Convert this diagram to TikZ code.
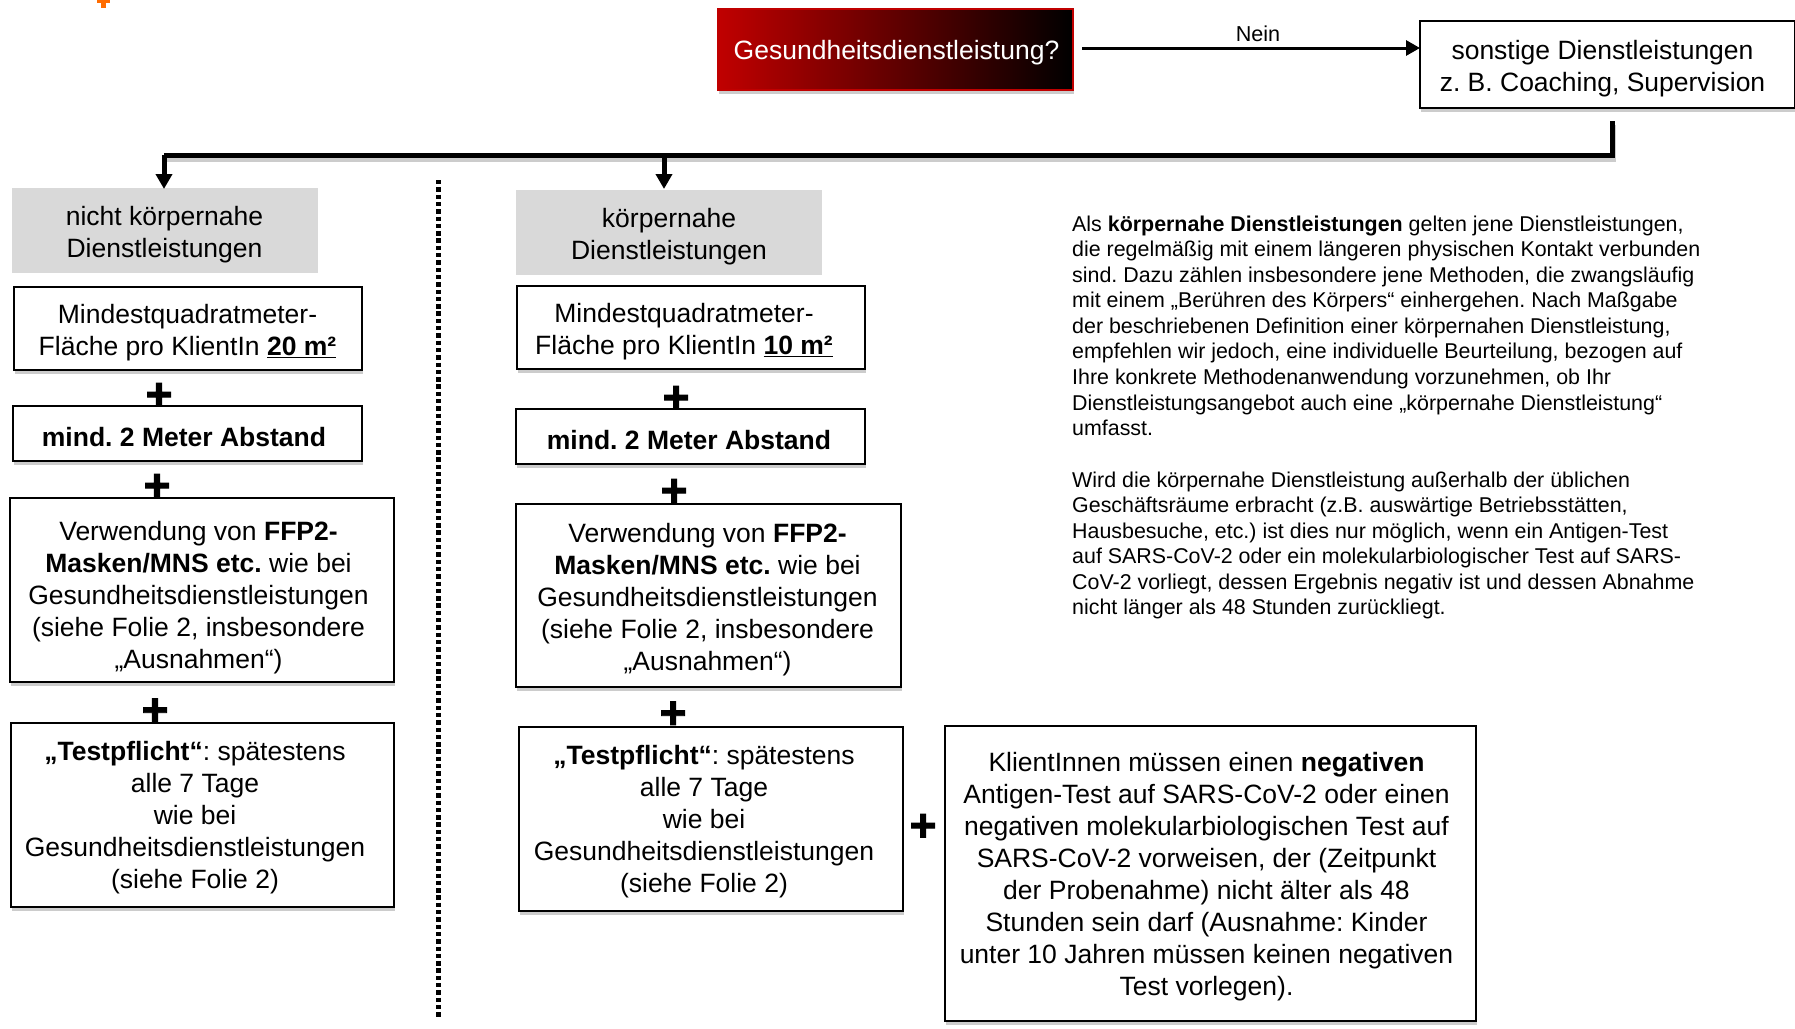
\documentclass[tikz,border=0pt]{standalone}
\usepackage{fontspec}
\setmainfont{Liberation Sans}
\newfontfamily\plusfont[FakeBold=2]{Liberation Sans Bold}
\frenchspacing
\usetikzlibrary{shadows,arrows.meta}
\definecolor{dred}{HTML}{C00000}
\definecolor{lgray}{HTML}{D9D9D9}
\newcommand\boxtxt[3][4.5]{\raisebox{-#1pt}[\height][\depth]{\kern#2pt\begin{tabular}{@{}c@{}}#3\end{tabular}}}
\tikzset{
 x=1pt,y=-1pt,
 softshadow/.style={drop shadow={shadow xshift=1pt,shadow yshift=-4pt,opacity=.2,fill=black}},
 bigtext/.style={font=\fontsize{26.5}{32}\selectfont},
 whitebox/.style={draw=black,line width=2pt,outer sep=0pt,fill=white,bigtext,inner sep=0pt,softshadow},
 graybox/.style={fill=lgray,bigtext,inner sep=0pt,outer sep=0pt},
 plussign/.style={font=\plusfont\fontsize{46}{46}\selectfont,inner sep=0pt},
 flow/.style={line width=3pt,draw=black,-{Triangle[length=14pt,width=15pt]}},
 trunk/.style={line width=5pt,draw=black,line join=miter},
 trunkarrow/.style={trunk,-{Triangle[length=15pt,width=16pt]}},
 explain/.style={anchor=north west,inner sep=0pt,align=left,font=\fontsize{21.4}{25.55}\selectfont},
}
\newcommand\bx[7][]{\node[whitebox,#1,minimum width=#4-#2,minimum height=#5-#3,anchor=north west] (#6) at (#2,#3) {#7};}
\begin{document}
\begin{tikzpicture}
\useasboundingbox (0,0) rectangle (1795,1028);
% small orange mark at the top edge
\node[fill=orange!85!red,minimum width=5pt,minimum height=9pt,inner sep=0pt] (markv) at (103,3) {};
\node[fill=orange!85!red,minimum width=13pt,minimum height=3pt,inner sep=0pt] (markh) at (103,1) {};
% question
\node[anchor=north west,minimum width=355pt,minimum height=81pt,inner sep=0pt,outer sep=0pt,draw=dred,line width=1.5pt,
  left color=dred,right color=black,softshadow,text=white,bigtext] (q) at (718,9) {\boxtxt[3.5]{2}{Gesundheitsdienstleistung?}};
\bx{1420}{21}{1795}{108}{other}{\boxtxt{-10}{sonstige Dienstleistungen\\z. B. Coaching, Supervision}}
\coordinate (qout) at (1082,48);
\coordinate (otherin) at (other.west |- qout);
\draw[flow] (qout) -- node[above=5pt,xshift=7pt,font=\fontsize{21.6}{25}\selectfont,inner sep=0pt] (nein) {Nein} (otherin);
% headers
\node[graybox,anchor=north west,minimum width=306pt,minimum height=85pt] (ha) at (12,188) {\boxtxt{-1}{nicht körpernahe\\Dienstleistungen}};
\node[graybox,anchor=north west,minimum width=306pt,minimum height=85pt] (hb) at (516,190) {\boxtxt{0}{körpernahe\\Dienstleistungen}};
% trunk
\coordinate (tstart) at (1612,121);
\coordinate (tcorner) at (1612,155);
\coordinate (tleft) at (164,155);
\coordinate (tmid) at (664,155);
\coordinate (ain) at (164,189);
\coordinate (bin) at (664,189);
\draw[line width=5pt,draw=black,opacity=.2] ([shift={(1,4)}]tstart) -- ([shift={(1,4)}]tcorner) -- ([shift={(1,4)}]tleft);
\draw[trunk] (tstart) -- (tcorner) -- (tleft);
\draw[trunkarrow] (tleft) -- (ain);
\draw[trunkarrow] (tmid) -- (bin);
% divider
\coordinate (d1) at (438.5,180);
\coordinate (d2) at (438.5,1019);
\draw[line width=4.8pt,dash pattern=on 4.4pt off 2.9pt] (d1) -- (d2);
% left column
\bx{14}{287}{362}{370}{a1}{\boxtxt{-1}{Mindestquadratmeter-\\Fläche pro KlientIn \textbf{\underline{20 m²}}}}
\bx{13}{406}{362}{461}{a2}{\boxtxt[7]{-7}{\textbf{mind. 2 Meter Abstand}}}
\bx{10}{498}{394}{682}{a3}{\boxtxt[8.5]{-7}{Verwendung von \textbf{FFP2-}\\\textbf{Masken/MNS etc.} wie bei\\Gesundheitsdienstleistungen\\(siehe Folie 2, insbesondere\\„Ausnahmen“)}}
\bx{11}{723}{394}{907}{a4}{\boxtxt[3.5]{-15}{\textbf{„Testpflicht“}: spätestens\\alle 7 Tage\\wie bei\\Gesundheitsdienstleistungen\\(siehe Folie 2)}}
\node[plussign] (pa1) at (159,396.5) {+};
\node[plussign] (pa2) at (157,487.5) {+};
\node[plussign] (pa3) at (155,712) {+};
% middle column
\bx{517}{286}{865}{369}{b1}{\boxtxt{-14}{Mindestquadratmeter-\\Fläche pro KlientIn \textbf{\underline{10 m²}}}}
\bx{516}{409}{865}{464}{b2}{\boxtxt[6.5]{-3}{\textbf{mind. 2 Meter Abstand}}}
\bx{516}{504}{901}{687}{b3}{\boxtxt{-2}{Verwendung von \textbf{FFP2-}\\\textbf{Masken/MNS etc.} wie bei\\Gesundheitsdienstleistungen\\(siehe Folie 2, insbesondere\\„Ausnahmen“)}}
\bx{519}{727}{903}{911}{b4}{\boxtxt[3]{-14}{\textbf{„Testpflicht“}: spätestens\\alle 7 Tage\\wie bei\\Gesundheitsdienstleistungen\\(siehe Folie 2)}}
\node[plussign] (pb1) at (676,399.5) {+};
\node[plussign] (pb2) at (674,492.5) {+};
\node[plussign] (pb3) at (673,715) {+};
\node[plussign] (pc) at (923,827.5) {+};
% right test box
\bx{945}{726}{1476}{1021}{c}{\boxtxt[4]{-8}{KlientInnen müssen einen \textbf{negativen}\\Antigen-Test auf SARS-CoV-2 oder einen\\negativen molekularbiologischen Test auf\\SARS-CoV-2 vorweisen, der (Zeitpunkt\\der Probenahme) nicht älter als 48\\Stunden sein darf (Ausnahme: Kinder\\unter 10 Jahren müssen keinen negativen\\Test vorlegen).}}
% explanation
\node[explain] (exp1) at (1072,215.5) {Als \textbf{körpernahe Dienstleistungen} gelten jene Dienstleistungen,\\die regelmäßig mit einem längeren physischen Kontakt verbunden\\sind. Dazu zählen insbesondere jene Methoden, die zwangsläufig\\mit einem „Berühren des Körpers“ einhergehen. Nach Maßgabe\\der beschriebenen Definition einer körpernahen Dienstleistung,\\empfehlen wir jedoch, eine individuelle Beurteilung, bezogen auf\\Ihre konkrete Methodenanwendung vorzunehmen, ob Ihr\\Dienstleistungsangebot auch eine „körpernahe Dienstleistung“\\umfasst.};
\node[explain] (exp2) at (1072,471.5) {Wird die körpernahe Dienstleistung außerhalb der üblichen\\Geschäftsräume erbracht (z.B. auswärtige Betriebsstätten,\\Hausbesuche, etc.) ist dies nur möglich, wenn ein Antigen-Test\\auf SARS-CoV-2 oder ein molekularbiologischer Test auf SARS-\\CoV-2 vorliegt, dessen Ergebnis negativ ist und dessen Abnahme\\nicht länger als 48 Stunden zurückliegt.};
\end{tikzpicture}
\end{document}
